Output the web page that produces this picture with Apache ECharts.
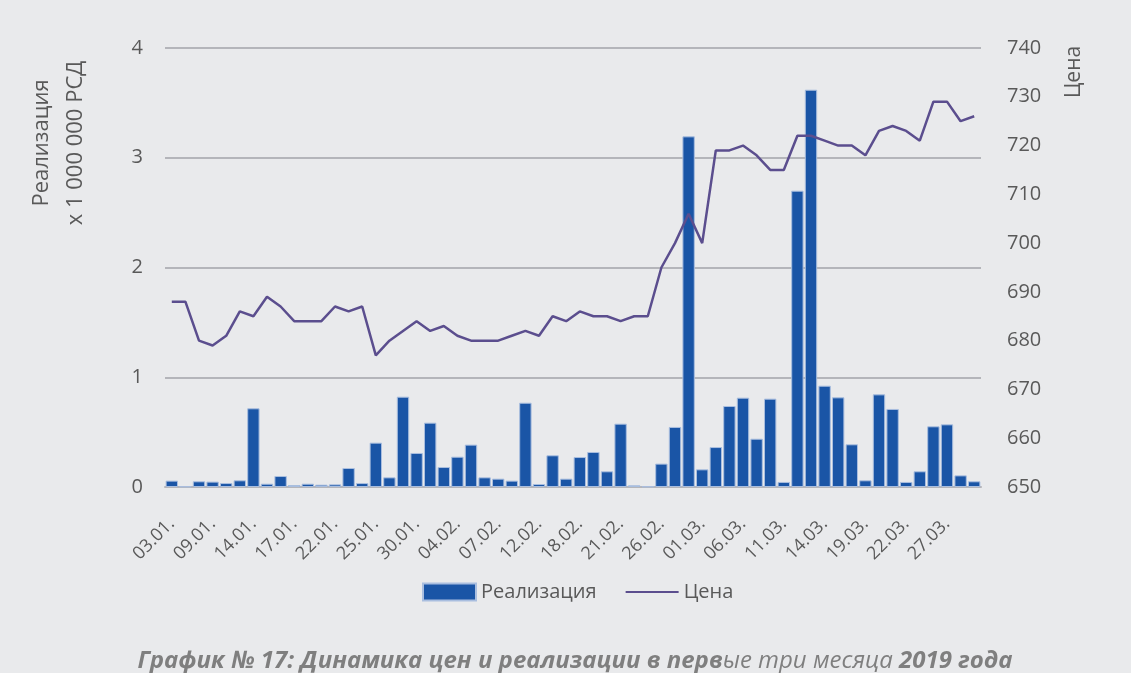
<!DOCTYPE html>
<html>
<head>
<meta charset="utf-8">
<script src="https://cdn.jsdelivr.net/npm/echarts@6/dist/echarts.min.js"></script>
<style>
    html, body { margin: 0; padding: 0; background: #e9eaec; }
    #chart { width: 1131px; height: 673px; }
</style>
</head>
<body>
<div id="chart"></div>
<script>
// дни торговли (январь - март 2019)
var days = ['03.01.', '04.01.', '08.01.', '09.01.', '10.01.', '11.01.', '14.01.', '15.01.', '16.01.', '17.01.',
    '18.01.', '21.01.', '22.01.', '23.01.', '24.01.', '25.01.', '28.01.', '29.01.', '30.01.', '31.01.',
    '01.02.', '04.02.', '05.02.', '06.02.', '07.02.', '08.02.', '11.02.', '12.02.', '13.02.', '14.02.',
    '18.02.', '19.02.', '20.02.', '21.02.', '22.02.', '25.02.', '26.02.', '27.02.', '28.02.', '01.03.',
    '04.03.', '05.03.', '06.03.', '07.03.', '08.03.', '11.03.', '12.03.', '13.03.', '14.03.', '15.03.',
    '18.03.', '19.03.', '20.03.', '21.03.', '22.03.', '25.03.', '26.03.', '27.03.', '28.03.', '29.03.'];

// Реализация, x 1 000 000 РСД
var sales = [0.058, 0.005, 0.052, 0.049, 0.036, 0.061, 0.717, 0.03, 0.10, 0.018,
    0.03, 0.021, 0.024, 0.173, 0.036, 0.404, 0.088, 0.823, 0.31, 0.586,
    0.182, 0.276, 0.386, 0.088, 0.076, 0.058, 0.768, 0.027, 0.289, 0.076,
    0.273, 0.319, 0.143, 0.577, 0.015, 0.005, 0.213, 0.547, 3.195, 0.161,
    0.364, 0.738, 0.814, 0.44, 0.805, 0.046, 2.70, 3.62, 0.923, 0.817,
    0.389, 0.061, 0.844, 0.711, 0.046, 0.143, 0.553, 0.571, 0.106, 0.052];

// Цена
var price = [688, 688, 680, 679, 681, 686, 685, 689, 687, 684,
    684, 684, 687, 686, 687, 677, 680, 682, 684, 682,
    683, 681, 680, 680, 680, 681, 682, 681, 685, 684,
    686, 685, 685, 684, 685, 685, 695, 700, 706, 700,
    719, 719, 720, 718, 715, 715, 722, 722, 721, 720,
    720, 718, 723, 724, 723, 721, 729, 729, 725, 726];

var fontName = '"Open Sans", "Noto Sans", sans-serif';
var textColor = '#595959';

var option = {
    backgroundColor: '#e9eaec',
    animation: false,
    textStyle: { fontFamily: fontName },
    grid: { left: 165, right: 150, top: 48, bottom: 186 },
    legend: {
        top: 577,
        left: 417,
        itemWidth: 53,
        itemHeight: 17,
        itemGap: 28,
        textStyle: { fontSize: 20, color: textColor, fontFamily: fontName },
        data: [
            { name: 'Реализация', icon: 'rect' },
            { name: 'Цена', itemStyle: { opacity: 0 } }
        ]
    },
    xAxis: [{
        type: 'category',
        data: days,
        axisLine: { lineStyle: { color: '#b4b5ba', width: 2 } },
        axisTick: { show: false },
        axisLabel: {
            interval: 2,
            rotate: 45,
            margin: 34,
            fontSize: 18,
            color: textColor,
            fontFamily: fontName
        }
    }],
    yAxis: [{
        type: 'value',
        min: 0,
        max: 4,
        interval: 1,
        axisLine: { show: false },
        axisTick: { show: false },
        axisLabel: { fontSize: 20, color: textColor, margin: 22, fontFamily: fontName },
        splitLine: { lineStyle: { color: '#b4b5ba', width: 2 } }
    }, {
        type: 'value',
        min: 650,
        max: 740,
        interval: 10,
        axisLine: { show: false },
        axisTick: { show: false },
        axisLabel: { fontSize: 20, color: textColor, margin: 26, fontFamily: fontName },
        splitLine: { show: false }
    }],
    graphic: [{
        type: 'text',
        x: 59,
        y: 143,
        rotation: Math.PI / 2,
        style: {
            text: 'Реализация\nx 1 000 000 РСД',
            fill: textColor,
            font: '22px ' + fontName,
            align: 'center',
            verticalAlign: 'middle',
            lineHeight: 34
        }
    }, {
        type: 'text',
        x: 1074,
        y: 72,
        rotation: Math.PI / 2,
        style: {
            text: 'Цена',
            fill: textColor,
            font: '21px ' + fontName,
            align: 'center',
            verticalAlign: 'middle'
        }
    }, {
        type: 'text',
        x: 575,
        y: 661,
        style: {
            text: '{b|График № 17: Динамика цен и реализации в перв}{i|ые три месяца }{b|2019 года}',
            align: 'center',
            verticalAlign: 'middle',
            rich: {
                b: { fontSize: 24, fontStyle: 'italic', fontWeight: 'bold', fill: '#7f7f7f', fontFamily: fontName },
                i: { fontSize: 24, fontStyle: 'italic', fill: '#7f7f7f', fontFamily: fontName }
            }
        }
    }],
    series: [{
        name: 'Реализация',
        type: 'bar',
        yAxisIndex: 0,
        data: sales,
        barCategoryGap: '9%',
        itemStyle: {
            color: '#1a55a6',
            borderColor: '#a9bedf',
            borderWidth: 1
        }
    }, {
        name: 'Цена',
        type: 'line',
        yAxisIndex: 1,
        data: price,
        symbol: 'none',
        lineStyle: { color: '#5b4e8e', width: 2.5 },
        itemStyle: { color: '#5b4e8e' }
    }]
};

var myChart = echarts.init(document.getElementById('chart'));
myChart.setOption(option);
</script>
</body>
</html>
